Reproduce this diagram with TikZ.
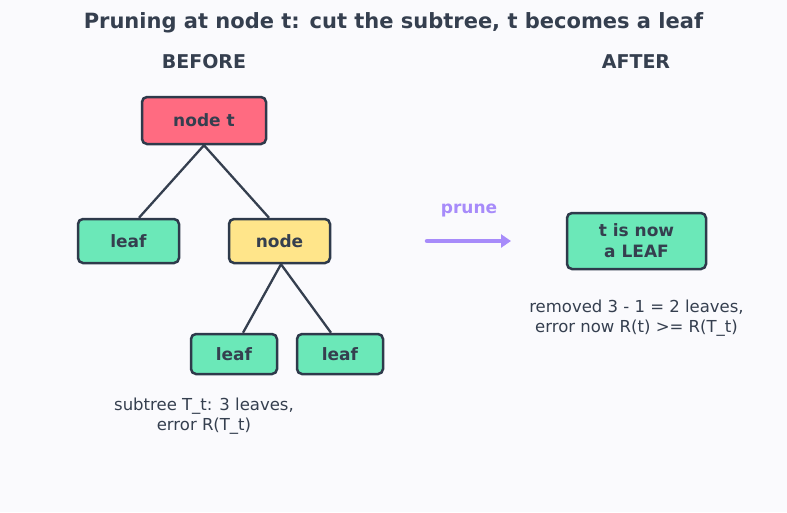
\documentclass[tikz,border=0pt]{standalone}
\usepackage{fontspec}
\setmainfont{DejaVu Sans}
\usepackage{tikz}
\usetikzlibrary{arrows.meta, positioning, calc}
\definecolor{bgcol}{RGB}{250, 250, 253}
\definecolor{inkdark}{RGB}{53, 63, 79}
\definecolor{boxline}{RGB}{46, 58, 75}
\definecolor{nodered}{RGB}{255, 107, 129}
\definecolor{leafgreen}{RGB}{107, 232, 184}
\definecolor{nodeyellow}{RGB}{255, 229, 138}
\definecolor{prunepurple}{RGB}{167, 139, 250}

\begin{document}
\begin{tikzpicture}[
  x=1pt, y=-1pt,
  tbox/.style={draw=boxline, line width=2.5pt, rounded corners=5pt, inner sep=0pt, align=center,
    font=\fontsize{17}{21}\selectfont\bfseries, text=inkdark},
  edge/.style={draw=inkdark, line width=2.3pt},
  caption/.style={align=center, font=\fontsize{16.5}{20}\selectfont, text=inkdark},
  heading/.style={font=\fontsize{19}{23}\selectfont\bfseries, text=inkdark}
]
  \fill[bgcol] (0,0) rectangle (787,512);
  \useasboundingbox (0,0) rectangle (787,512);

  \node[font=\fontsize{21}{25}\selectfont\bfseries, text=inkdark] (title) at (393.5,23) {Pruning at node t: cut the subtree, t becomes a leaf};
  \node[heading] (before) at (204,62) {BEFORE};
  \node[heading] (after) at (636,62) {AFTER};

  % tree before pruning
  \node[tbox, fill=nodered, minimum width=124pt, minimum height=47pt] (nt) at (204,120.5) {node t};
  \node[tbox, fill=leafgreen, minimum width=101pt, minimum height=44pt] (leafa) at (128.5,241) {leaf};
  \node[tbox, fill=nodeyellow, minimum width=101pt, minimum height=44pt] (inner) at (279.5,241) {node};
  \node[tbox, fill=leafgreen, minimum width=86pt, minimum height=40pt] (leafb) at (234,354) {leaf};
  \node[tbox, fill=leafgreen, minimum width=86pt, minimum height=40pt] (leafc) at (340,354) {leaf};

  \draw[edge] (nt.south) -- ([xshift=10.5pt]leafa.north);
  \draw[edge] (nt.south) -- ([xshift=-10.5pt]inner.north);
  \draw[edge] ([xshift=1.5pt]inner.south) -- ([xshift=9pt]leafb.north);
  \draw[edge] ([xshift=1.5pt]inner.south) -- ([xshift=-9pt]leafc.north);

  \node[caption] (capbefore) at (204,416) {subtree T\_t: 3 leaves,\\error R(T\_t)};

  % prune arrow
  \coordinate (pa) at (427,241);
  \coordinate (pb) at (511,241);
  \draw[prunepurple, line width=4.5pt, line cap=round, -{Triangle[length=10pt, width=13pt]}] (pa) -- (pb);
  \node[font=\fontsize{17}{21}\selectfont\bfseries, text=prunepurple] (prune) at (469,211) {prune};

  % after pruning
  \node[tbox, fill=leafgreen, minimum width=139pt, minimum height=56pt] (newleaf) at (636.5,241) {t is now\\a LEAF};
  \node[caption] (capafter) at (636.5,318) {removed 3 - 1 = 2 leaves,\\error now R(t) >= R(T\_t)};
\end{tikzpicture}
\end{document}
